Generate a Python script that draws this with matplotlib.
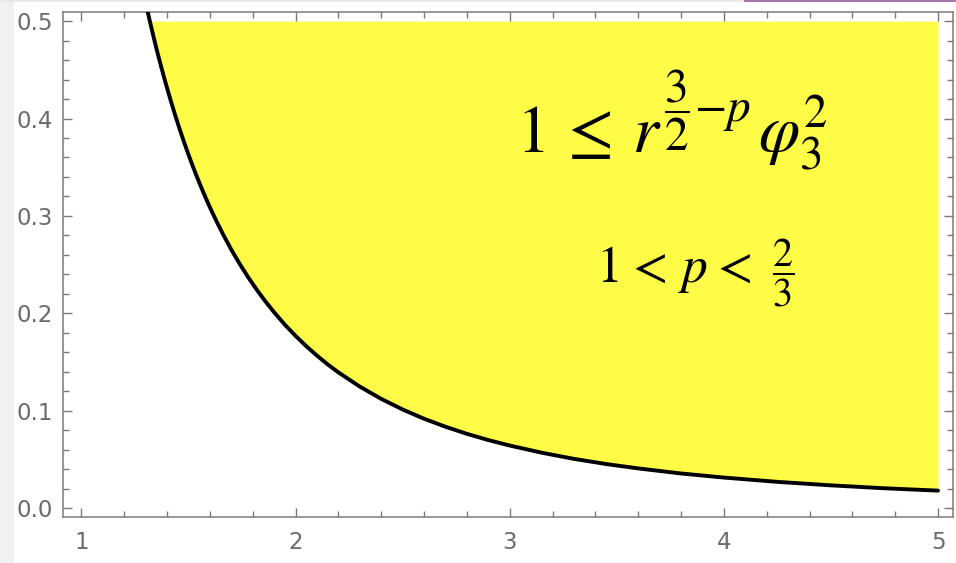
import numpy as np
import matplotlib
matplotlib.use("Agg")
import matplotlib.pyplot as plt
from matplotlib.ticker import MultipleLocator, FormatStrFormatter
from matplotlib.patches import Rectangle
from matplotlib.lines import Line2D

# boundary curve of the region (r, phi^2)
r_vals = [1.31, 1.32, 1.33, 1.34, 1.35, 1.36, 1.37, 1.38, 1.39, 1.40, 1.42,
          1.44, 1.46, 1.48, 1.50, 1.52, 1.54, 1.56, 1.58, 1.60, 1.63, 1.66,
          1.70, 1.74, 1.78, 1.82, 1.86, 1.90, 1.95, 2.00, 2.05, 2.10, 2.15,
          2.20, 2.30, 2.40, 2.50, 2.60, 2.70, 2.80, 2.90, 3.00, 3.15, 3.30,
          3.45, 3.60, 3.80, 4.00, 4.25, 4.50, 4.75, 5.00]
phi_vals = [0.5091, 0.4995, 0.4902, 0.4811, 0.4722, 0.4636, 0.4552, 0.4470,
            0.4390, 0.4313, 0.4162, 0.4019, 0.3883, 0.3753, 0.3629, 0.3511,
            0.3398, 0.3290, 0.3187, 0.3088, 0.2948, 0.2817, 0.2653, 0.2504,
            0.2366, 0.2238, 0.2120, 0.2010, 0.1883, 0.1768, 0.1662, 0.1565,
            0.1475, 0.1393, 0.1247, 0.1121, 0.1012, 0.0917, 0.0835, 0.0762,
            0.0698, 0.0642, 0.0568, 0.0505, 0.0452, 0.0407, 0.0355, 0.0313,
            0.0269, 0.0233, 0.0203, 0.0179]
y_top = 0.5

x_ticks = [1, 2, 3, 4, 5]
y_ticks = [0.0, 0.1, 0.2, 0.3, 0.4, 0.5]

r = np.array(r_vals)
phi = np.array(phi_vals)

plt.rcParams["mathtext.fontset"] = "stix"

W, H = 956, 563
fig = plt.figure(figsize=(W / 100, H / 100), dpi=100)
fig.patch.set_facecolor("white")

# light window edge on the left / top
fig.patches.append(Rectangle((0, 0), 14 / W, 1, transform=fig.transFigure,
                             facecolor="#f1f1f1", edgecolor="none", zorder=0))
fig.add_artist(Line2D([0, 1], [0.999, 0.999], transform=fig.transFigure,
                      color="#e6e6e6", lw=1.2))
fig.add_artist(Line2D([745 / W, 1], [0.999, 0.999], transform=fig.transFigure,
                      color="#a775a9", lw=1.5))

ax = fig.add_axes([63 / W, 1 - 517 / H, 890 / W, 505 / H])

ax.fill_between(r, np.minimum(phi, y_top), y_top, color="#fffc47", lw=0, zorder=1)
ax.plot(r, phi, color="black", lw=2.8, solid_capstyle="round",
        solid_joinstyle="round", zorder=3)

ax.set_xlim(0.914, 5.070)
ax.set_ylim(-0.0092, 0.5094)

frame = "#7a7a7a"
for s in ax.spines.values():
    s.set_color(frame)
    s.set_linewidth(1.1)

ax.set_xticks(x_ticks)
ax.set_yticks(y_ticks)
ax.xaxis.set_minor_locator(MultipleLocator(0.2))
ax.yaxis.set_minor_locator(MultipleLocator(0.02))
ax.yaxis.set_major_formatter(FormatStrFormatter("%.1f"))
ax.tick_params(which="both", direction="in", top=True, right=True,
               color=frame, width=1.0, labelcolor="#6b6b6b",
               labelsize=16.5)
ax.tick_params(which="major", length=6.5)
ax.tick_params(which="minor", length=4.2)
ax.tick_params(axis="y", pad=7)
ax.tick_params(axis="x", pad=10)
for lab in ax.get_xticklabels() + ax.get_yticklabels():
    lab.set_family("DejaVu Sans")


def put(px, py, s, size, va="baseline"):
    # place a piece of the formula by pixel position (y from the top)
    fig.text(px / W, 1 - py / H, s, fontsize=size, color="black",
             ha="left", va=va)


# 1 <= r^(3/2 - p) phi_3^2
put(516, 152, r"$1$", 48)
put(558, 152, r"$\leq$", 48)
put(632, 152, r"$r$", 48)
put(664, 110, r"$\dfrac{3}{2}$", 34, va="center")
put(694, 121, r"$-p$", 34)
put(758, 152, r"$\varphi_3^2$", 48)

# 1 < p < 2/3
put(596, 282, r"$1$", 37)
put(625, 282, r"$<$", 37)
put(678, 282, r"$p$", 37)
put(710, 282, r"$<$", 37)
put(772, 273, r"$\dfrac{2}{3}$", 29, va="center")

fig.savefig("out.png", dpi=100, facecolor=fig.get_facecolor())
